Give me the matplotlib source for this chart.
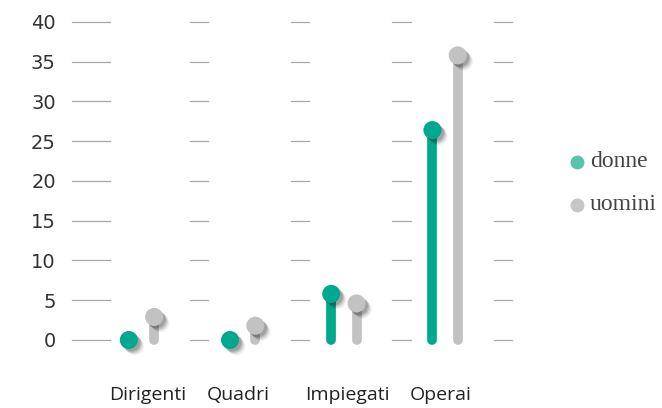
import matplotlib
matplotlib.use("Agg")
import matplotlib.pyplot as plt
import matplotlib.patheffects as pe
import numpy as np

categories = ["Dirigenti", "Quadri", "Impiegati", "Operai"]
donne = [0, 0, 5.8, 26.4]
uomini = [2.9, 1.8, 4.6, 35.8]
yticks = [0, 5, 10, 15, 20, 25, 30, 35, 40]
series_names = ["donne", "uomini"]

teal = "#00a88e"
gray = "#c2c2c2"
teal_leg = "#5cc3ab"
gray_leg = "#c6c6c6"

W, H = 662, 408
fig = plt.figure(figsize=(W/100, H/100), dpi=100)
ax = fig.add_axes([60/W, 48/H, 480/W, 345/H])

x = np.arange(len(categories))
off = 0.125

# grid segments between categories
for yv in yticks:
    ax.plot([-0.69, -0.31], [yv, yv], color="#a8a8a8", lw=0.9, zorder=0)
    for i in range(len(categories)):
        ax.plot([i + 0.48, i + 0.66], [yv, yv], color="#a8a8a8", lw=0.9, zorder=0)

shadow = [pe.SimplePatchShadow(offset=(o, -o), shadow_rgbFace="black", alpha=a)
          for o, a in [(4.5, 0.05), (3.6, 0.09), (2.7, 0.13), (1.8, 0.15)]] + [pe.Normal()]

for vals, dx, col in [(donne, -off, teal), (uomini, off, gray)]:
    for xi, v in zip(x, vals):
        ax.plot([xi + dx, xi + dx], [0, v], color=col, lw=7,
                solid_capstyle="round", zorder=2)
    ax.plot(x + dx, vals, "o", color=col, ms=13, mec="none", zorder=3,
            path_effects=shadow)

ax.set_xlim(-0.805, 3.938)
ax.set_ylim(-2.516, 40.88)
ax.set_yticks(yticks)
ax.set_yticklabels([str(t) for t in yticks], fontsize=14, color="#333333",
                   family="DejaVu Sans")
label_shift = [0.06, -0.04, 0.03, -0.04]
ax.set_xticks(x + np.array(label_shift))
ax.set_xticklabels(categories, fontsize=14, color="#222222", family="Open Sans")
ax.tick_params(axis="y", length=0, pad=3)
ax.tick_params(axis="x", length=0, pad=19)
for s in ax.spines.values():
    s.set_visible(False)

# manual legend
for k, (name, col) in enumerate(zip(series_names, [teal_leg, gray_leg])):
    yc = 1 - (162 + 43 * k) / H
    fig.add_artist(plt.Line2D([577/W], [yc], marker="o", ls="none", color=col,
                              ms=10, mec="none", transform=fig.transFigure))
    fig.text(590/W, 1 - (167 + 43 * k) / H, name, family="Liberation Serif",
             fontsize=17, color="#444444", va="baseline", ha="left")

fig.savefig("out.png", dpi=100)
